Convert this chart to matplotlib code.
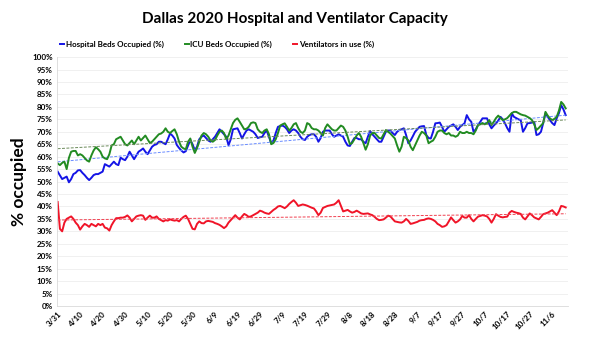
import numpy as np
import pandas as pd
import matplotlib
matplotlib.use('Agg')
import matplotlib.pyplot as plt

plt.rcParams['font.family'] = ['Lato', 'DejaVu Sans']

# daily values from 3/31 on, percent occupied
hospital_beds = [
    54, 52.5, 51, 51.5, 52, 49.7, 51, 53, 53.5, 54.5,
    54.6, 53.5, 52.6, 51.5, 50.6, 51.5, 52.6, 53, 53, 53.5,
    54, 57, 56.5, 56, 57, 58, 57, 56.6, 59.6, 59,
    58.6, 60, 62, 60.5, 59, 60.5, 62, 62.6, 63.3, 62,
    61, 62.5, 64, 64.7, 65, 66, 66, 65.5, 65, 67,
    69.3, 68.5, 67.3, 64.7, 63.5, 62.5, 61.7, 62.2, 64.5, 66.7,
    65, 62.6, 64, 67, 68, 68.5, 67.5, 66.5, 66, 67,
    68, 69.5, 71, 70, 69, 68, 64.6, 67, 71, 71.2,
    71.4, 69.5, 67.3, 69, 70.5, 71, 70.5, 70, 69, 67.5,
    67.8, 68, 69.5, 70.5, 68, 65.4, 66.5, 69.5, 72, 72.3,
    72.5, 72, 71, 69.5, 70.5, 71, 70.5, 69.5, 68, 67,
    66.7, 68, 68.7, 69, 69, 68, 66, 67.5, 70, 70.5,
    70.5, 70.5, 69, 68, 68.5, 69, 68.5, 68, 66, 64.5,
    64.3, 66, 67.5, 67.5, 67, 67, 66, 65.4, 68, 70.3,
    69, 68, 67, 66, 66, 68, 70, 70.5, 70.5, 69.5,
    68.7, 70, 70.7, 71, 71.4, 68.7, 65.4, 66.5, 68.2, 70,
    71, 72, 72.2, 72.3, 68.7, 67.5, 67.3, 70, 73.4, 73.5,
    73.7, 72, 70, 71, 72, 72.5, 73, 72, 70.7, 72,
    72.7, 73.4, 76.7, 75, 74, 70, 71, 72.7, 74, 75.4,
    75.4, 75.4, 73, 71.4, 72.5, 73.4, 74.5, 76, 75, 73.4,
    71.5, 70, 77.4, 76, 75.5, 75, 74.7, 70, 71.5, 73.4,
    73.5, 73.7, 74, 68.7, 69, 70, 73.5, 77.4, 76, 74.7,
    73.5, 72.7, 75.4, 77.5, 80.7, 79, 76.7,
]

icu_beds = [
    57.3, 56.6, 57.5, 58, 55, 59.5, 62, 62.3, 62.3, 60.5,
    61, 60.5, 59.5, 58.5, 58, 60.5, 62.5, 63.8, 63, 62,
    60, 59.3, 59, 61, 64.5, 65, 67, 67.5, 68, 66.5,
    65, 64.5, 65.5, 66.5, 65, 66.5, 68, 66.5, 67.5, 68.5,
    67, 65.5, 66, 67, 68, 69, 69.3, 70, 71.4, 70,
    69.5, 70.3, 71, 69, 66, 64, 63.3, 63, 66, 67.3,
    64, 61.5, 63.5, 66, 68.5, 69.5, 69, 68, 66.5, 66,
    66.7, 68.5, 70, 70.5, 69.5, 67, 68.5, 71, 73.5, 74.8,
    75.4, 74, 72.5, 71, 71.2, 72, 73.5, 73.8, 73.5, 71,
    70, 69.5, 70.5, 71, 69, 65, 65.5, 67, 69.5, 72.5,
    73, 73.4, 72, 70.5, 71.5, 73, 73.5, 71.5, 70, 69.5,
    70.5, 73.5, 73, 71.5, 71, 71, 70.5, 69.5, 68.5, 71.5,
    73, 72, 71, 70.5, 70.5, 71.5, 72.5, 72, 70.5, 68,
    65, 65.5, 67, 68.5, 69.5, 68, 65.5, 62.8, 65, 68.5,
    69.5, 69.5, 68.5, 67.5, 67.3, 69, 70.7, 70, 69.3, 68.3,
    67.3, 64.5, 62, 64, 68, 67.5, 66.5, 64, 62.6, 64.6,
    66.5, 68.5, 70, 69.5, 68.5, 65.4, 66, 66.5, 68, 70,
    70.5, 70.5, 69.5, 69, 69.5, 68.5, 68.5, 68, 68.5, 70,
    69.5, 69.5, 70, 69.5, 69.5, 69, 70.5, 72.7, 73, 73.5,
    73, 73.5, 74.7, 72.7, 74, 75.5, 76.5, 75.5, 74.7, 75,
    75.5, 76.5, 77.5, 78, 78, 77.5, 77, 76.7, 76.5, 76,
    75.5, 74.7, 73, 70.7, 71.5, 72.5, 73.5, 78, 76.5, 75.4,
    74.7, 75.2, 76, 78.5, 82, 81, 79.4,
]

ventilators = [
    41.8, 31, 30, 33.5, 35, 35.5, 36, 35, 33.5, 32.5,
    30.7, 32, 33, 32.5, 31.8, 33, 32.5, 32, 33, 32.5,
    33, 31.5, 31.2, 30.3, 32.5, 34, 35.3, 35.3, 35.5, 35.5,
    35.8, 36.4, 35.5, 34, 35, 36, 36.3, 36.5, 36.3, 34.6,
    35.5, 36.3, 35.5, 35.5, 36, 35, 34.5, 34, 34.5, 34.3,
    34.8, 34.5, 34.3, 34.5, 34, 35, 35.8, 36.3, 35, 33,
    31, 30.8, 33, 34, 33.3, 33.2, 34, 34.2, 34, 33.8,
    33.3, 33, 32.6, 32, 31.3, 32, 33.5, 34.5, 35.5, 36.5,
    35.5, 34.8, 36, 37, 36.5, 35.8, 36, 36.5, 37, 37.5,
    38.3, 38, 37.5, 37.2, 37, 37.8, 38.6, 39.2, 40, 40.2,
    39.8, 39.3, 40, 41, 41.8, 42.5, 41.5, 40.2, 40.5, 40.8,
    40.6, 40.3, 39.9, 39.5, 39.2, 38, 36.5, 37.5, 39.4, 39.8,
    40.2, 40.4, 40.6, 40.8, 41.5, 42.5, 40.2, 38, 38.3, 38.6,
    38, 37.5, 37.8, 38.3, 37.8, 37.2, 37, 37.1, 37.2, 36.8,
    36.5, 35.8, 35, 34.5, 34.6, 34.8, 35.5, 36.3, 36, 35,
    34, 33.8, 33.6, 33.5, 34, 35, 34.2, 33, 33.2, 33.5,
    33.8, 34.3, 34.5, 34.6, 35, 35.2, 35, 34.6, 34, 33,
    32.5, 31.8, 32, 32.5, 34, 35.6, 34.5, 33.5, 34, 34.8,
    36.2, 35.5, 35.5, 36.5, 35, 34, 35, 35.9, 36.2, 36.5,
    36.3, 36, 35, 33.5, 35, 36.9, 36.3, 35.8, 35.6, 35.8,
    35.9, 37.5, 38.2, 37.8, 37.5, 37.3, 37, 35.5, 34.8, 36,
    37.2, 36.5, 35.6, 35.2, 34.8, 35.8, 36.9, 37.2, 37.5, 38,
    38.5, 37.5, 36.5, 38, 40.2, 40, 39.6,
]

series_names = ['Hospital Beds Occupied (%)', 'ICU Beds Occupied (%)', 'Ventilators in use (%)']
line_colors = ['#1414e6', '#228b22', '#f01428']
trend_colors = ['#6a8cff', '#6b8a5a', '#f04050']

dates = pd.date_range('2020-03-31', periods=len(hospital_beds), freq='D')
x = np.arange(len(dates))

fig = plt.figure(figsize=(5.9, 3.4), dpi=100)
ax = fig.add_axes([0.0966, 0.1, 0.866, 0.732])

handles = []
for vals, name, c, tc in zip([hospital_beds, icu_beds, ventilators], series_names, line_colors, trend_colors):
    y = np.array(vals)
    h, = ax.plot(x, y, color=c, lw=1.4, label=name, solid_joinstyle='round')
    handles.append(h)
    # linear trendline
    k, b = np.polyfit(x, y, 1)
    ax.plot(x, k * x + b, color=tc, lw=0.7, ls=(0, (3, 1.5)))

ax.set_xlim(-0.3, 227)
ax.set_ylim(0, 100)
ax.set_yticks(np.arange(0, 101, 5))
ax.set_yticklabels([f'{v}%' for v in range(0, 101, 5)], fontsize=5.8, fontweight='bold')
ax.set_xticks(x[::10])
ax.set_xticklabels([f'{d.month}/{d.day}' for d in dates[::10]], fontsize=5.8,
                   fontweight='bold', rotation=45, ha='right', rotation_mode='anchor')
ax.tick_params(length=0, pad=3)

ax.grid(axis='y', color='#eeeeee', lw=0.6)
ax.set_axisbelow(True)
for s in ['top', 'right']:
    ax.spines[s].set_visible(False)
for s in ['left', 'bottom']:
    ax.spines[s].set_color('#d9d9d9')
    ax.spines[s].set_linewidth(0.6)

ax.set_ylabel('% occupied', fontsize=12.5, fontweight='bold', labelpad=4)

fig.text(0.5, 0.945, 'Dallas 2020 Hospital and Ventilator Capacity', ha='center', va='center',
         fontsize=11, fontweight='bold')
fig.legend(handles=handles, loc='center left', bbox_to_anchor=(0.09, 0.87), ncol=3,
           frameon=False, handlelength=0.5, handletextpad=0.2,
           columnspacing=2.6, prop={'weight': 'bold', 'size': 5.8})

fig.savefig('out.png', dpi=100)
